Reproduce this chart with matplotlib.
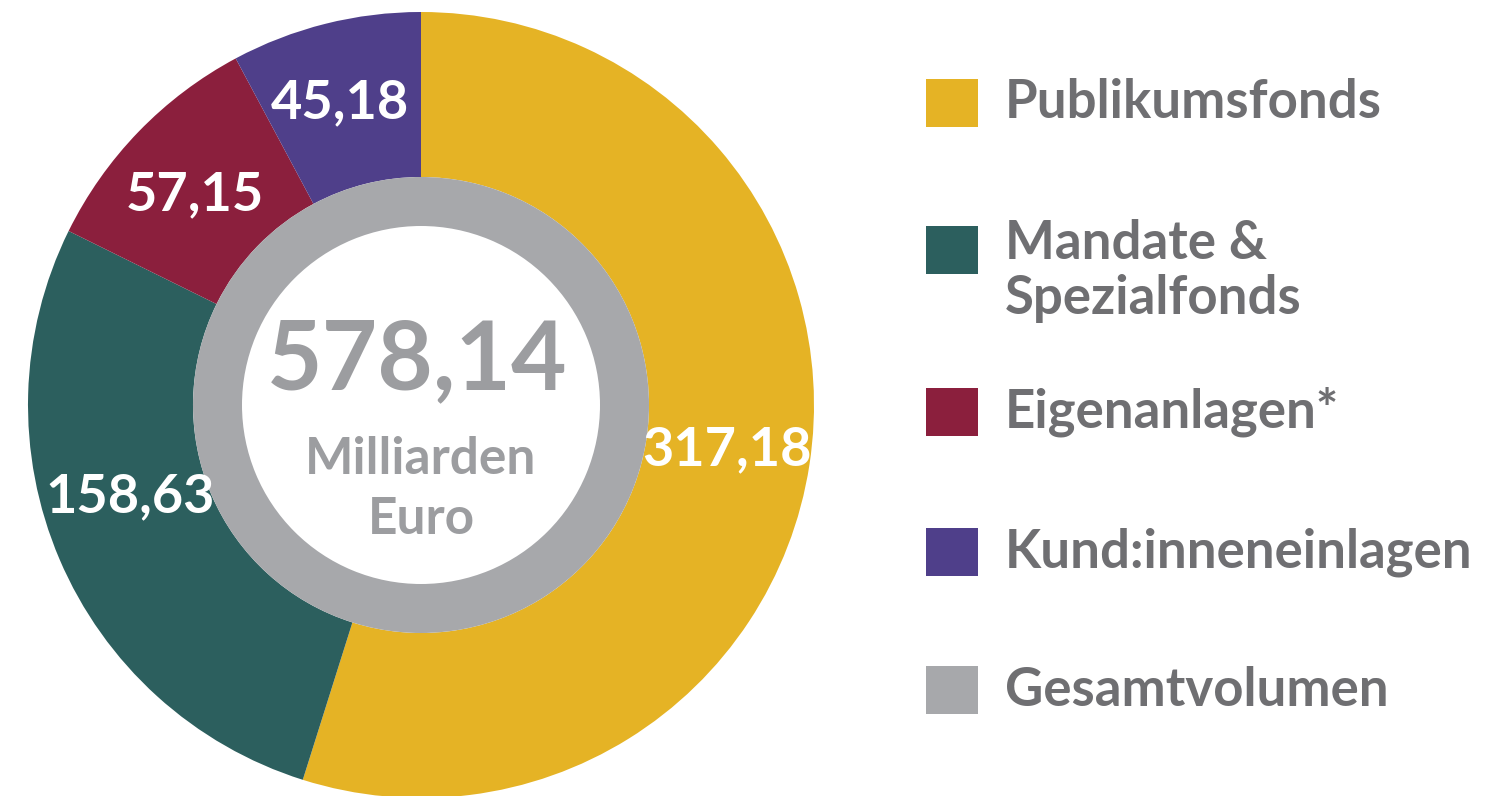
import matplotlib
matplotlib.use("Agg")
import matplotlib.pyplot as plt
from matplotlib.patches import Rectangle

# data
categories = ["Publikumsfonds", "Mandate &\nSpezialfonds", "Eigenanlagen*", "Kund:inneneinlagen"]
values = [317.18, 158.63, 57.15, 45.18]
value_labels = ["317,18", "158,63", "57,15", "45,18"]
total_label = "578,14"
total_name = "Gesamtvolumen"
colors = ["#E5B325", "#2C5F5E", "#8B1F3D", "#4F3F8A"]
gray = "#A7A8AB"

plt.rcParams['font.family'] = ['Lato', 'DejaVu Sans']

W, H = 1487, 796
fig = plt.figure(figsize=(W / 100, H / 100), dpi=100)
ax = fig.add_axes([0, 0, 1, 1])

cx, cy = 421, H - 405
r_out, r_mid, r_in = 393, 228, 179

# outer colored ring
ax.pie(values, colors=colors, startangle=90, counterclock=False,
       radius=r_out, center=(cx, cy),
       wedgeprops=dict(width=r_out - r_mid, linewidth=0))
# inner gray ring (total)
ax.pie([sum(values)], colors=[gray], startangle=90, counterclock=False,
       radius=r_mid, center=(cx, cy),
       wedgeprops=dict(width=r_mid - r_in, linewidth=0))

ax.set_xlim(0, W)
ax.set_ylim(0, H)
ax.set_aspect("equal")
ax.axis("off")

# value labels inside segments
label_pos = [(727, 450), (130, 497), (195, 195), (340, 103)]
for (x, y), t in zip(label_pos, value_labels):
    ax.text(x, H - y, t, color="white", fontsize=39, fontweight="bold",
            ha="center", va="center")

# center text
ax.text(cx - 4, H - 362, total_label, color="#9C9DA0", fontsize=69,
        fontweight="bold", ha="center", va="center")
ax.text(cx, H - 460, "Milliarden", color="#9C9DA0", fontsize=37,
        fontweight="bold", ha="center", va="center")
ax.text(cx, H - 520, "Euro", color="#9C9DA0", fontsize=37,
        fontweight="bold", ha="center", va="center")

# legend
leg_y = [103, 250, 412, 552, 690]
leg_text_y = [103, 271, 412, 552, 690]
leg_colors = colors + [gray]
leg_labels = categories + [total_name]
for y, ty, c, t in zip(leg_y, leg_text_y, leg_colors, leg_labels):
    ax.add_patch(Rectangle((926, H - y - 24), 52, 48, color=c, linewidth=0))
    ax.text(1005, H - ty, t, color="#6F6F72", fontsize=38, fontweight="bold",
            ha="left", va="center", linespacing=1.15)

fig.savefig("out.png", dpi=100, facecolor="white")
